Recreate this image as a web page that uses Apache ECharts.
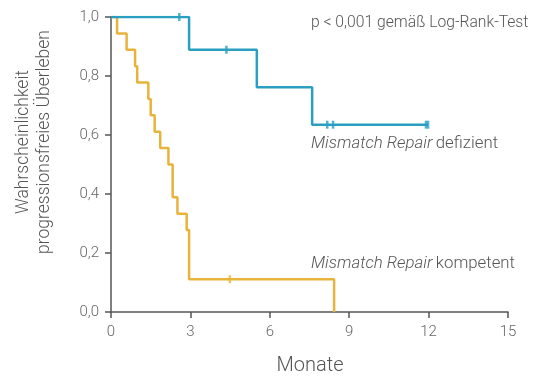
<!DOCTYPE html>
<html>
<head>
<meta charset="utf-8">
<script src="https://cdn.jsdelivr.net/npm/echarts@6/dist/echarts.min.js"></script>
<style>
html,body{margin:0;padding:0;background:#fff;}
#chart{width:538px;height:376px;}
</style>
</head>
<body>
<div id="chart"></div>
<script>
// Mismatch Repair kompetent (yellow)
var kompTimes = [0, 0.23, 0.59, 0.91, 0.99, 1.41, 1.50, 1.65, 1.86, 2.17, 2.33, 2.51, 2.86, 2.95, 8.43];
var kompSurv  = [1.0, 0.944, 0.889, 0.833, 0.778, 0.722, 0.667, 0.611, 0.556, 0.5, 0.389, 0.333, 0.278, 0.111, 0.0];
var kompCensTimes = [4.49];
var kompCensSurv  = [0.111];

// Mismatch Repair defizient (blue)
var defTimes = [0, 2.95, 5.51, 7.60, 11.98];
var defSurv  = [1.0, 0.889, 0.762, 0.635, 0.635];
var defCensTimes = [2.58, 4.36, 8.17, 8.39, 11.90, 11.98];
var defCensSurv  = [1.0, 0.889, 0.635, 0.635, 0.635, 0.635];

var xTicks = [0, 3, 6, 9, 12, 15];
var yTicks = [0, 0.2, 0.4, 0.6, 0.8, 1.0];

var blue = '#2a9fc2';
var yellow = '#e8b33b';
var FONT = 'Roboto';

function pairs(xs, ys){ return xs.map(function(x,i){ return [x, ys[i]]; }); }

var chart = echarts.init(document.getElementById('chart'), null, {renderer:'canvas'});
chart.setOption({
  animation: false,
  backgroundColor: '#fff',
  grid: {left: 111, right: 30, top: 17, bottom: 64, containLabel: false},
  xAxis: {
    type: 'value', min: 0, max: 15, interval: 3,
    axisLine: {show: true, lineStyle: {color: '#555', width: 1.5}},
    axisTick: {show: true, length: 6, lineStyle: {color: '#555', width: 1.5}},
    axisLabel: {color: '#666', fontSize: 15, fontFamily: FONT, fontWeight: 300, margin: 13,
      formatter: function(v){ return xTicks.indexOf(v) >= 0 ? String(v) : ''; }},
    splitLine: {show: false}
  },
  yAxis: {
    type: 'value', min: 0, max: 1, interval: 0.2,
    axisLine: {show: true, lineStyle: {color: '#555', width: 1.5}},
    axisTick: {show: true, length: 6, lineStyle: {color: '#555', width: 1.5}},
    axisLabel: {color: '#666', fontSize: 15, fontFamily: FONT, fontWeight: 300, margin: 12,
      formatter: function(v){ return v.toFixed(1).replace('.', ','); }},
    splitLine: {show: false}
  },
  series: [
    {type: 'line', step: 'end', data: pairs(kompTimes, kompSurv), showSymbol: false, symbol: 'none',
     lineStyle: {color: yellow, width: 2.5}, z: 3},
    {type: 'line', step: 'end', data: pairs(defTimes, defSurv), showSymbol: false, symbol: 'none',
     lineStyle: {color: blue, width: 2.5}, z: 4},
    {type: 'scatter', data: pairs(kompCensTimes, kompCensSurv), symbol: 'rect', symbolSize: [2.5, 8],
     itemStyle: {color: yellow}, z: 5},
    {type: 'scatter', data: pairs(defCensTimes, defCensSurv), symbol: 'rect', symbolSize: [2.5, 8],
     itemStyle: {color: blue}, z: 5}
  ],
  graphic: [
    {type: 'text', left: 311, top: 15, style: {text: 'p < 0,001 gemäß Log-Rank-Test', fill: '#555',
      font: '300 15.7px Roboto'}},
    {type: 'text', left: 311, top: 135, style: {
      text: '{i|Mismatch Repair} {n|defizient}',
      rich: {i: {fontStyle: 'italic', fontSize: 16.8, fontFamily: FONT, fontWeight: 300, fill: '#555'},
             n: {fontSize: 16.8, fontFamily: FONT, fontWeight: 300, fill: '#555'}}}},
    {type: 'text', left: 311, top: 255, style: {
      text: '{i|Mismatch Repair} {n|kompetent}',
      rich: {i: {fontStyle: 'italic', fontSize: 16.8, fontFamily: FONT, fontWeight: 300, fill: '#555'},
             n: {fontSize: 16.8, fontFamily: FONT, fontWeight: 300, fill: '#555'}}}},
    {type: 'text', x: 310, y: 366, style: {text: 'Monate', fill: '#555', font: '300 20px Roboto',
      textAlign: 'center', textVerticalAlign: 'middle'}},
    {type: 'text', x: 24, y: 142, rotation: Math.PI/2, style: {text: 'Wahrscheinlichkeit', fill: '#555',
      font: '300 17.5px Roboto', textAlign: 'center', textVerticalAlign: 'middle'}},
    {type: 'text', x: 45, y: 142, rotation: Math.PI/2, style: {text: 'progressionsfreies Überleben', fill: '#555',
      font: '300 17.5px Roboto', textAlign: 'center', textVerticalAlign: 'middle'}}
  ]
});
</script>
</body>
</html>
